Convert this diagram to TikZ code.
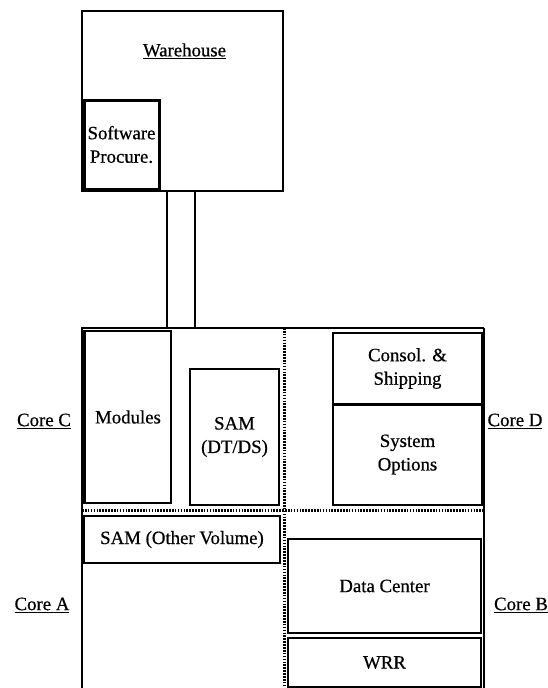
\documentclass[tikz,border=0pt]{standalone}
\usepackage{fontspec}
\setmainfont{Liberation Serif}[FakeBold=0.6]
\begin{document}
\begin{tikzpicture}[x=1pt,y=-1pt,
  every node/.style={font=\fontsize{18.8}{23.5}\selectfont, align=center, inner sep=0pt},
  box/.style={draw, line width=1.8pt, rectangle},
  heavybox/.style={draw, line width=3pt, rectangle},
  sep/.style={line width=3pt, dash pattern=on 1.6pt off 1.3pt},
  wall/.style={line width=2pt},
  lbl/.style={}]
\useasboundingbox (0,0) rectangle (548,688);
% warehouse
\node[box, minimum width=201pt, minimum height=180pt] (wh) at (182.5,101) {};
\node[lbl] (whl) at (184.5,51) {\underline{Warehouse}};
\node[heavybox, minimum width=75pt, minimum height=89pt] (sw) at (121.5,144.5) {Software\\Procure.};
% building outline
\coordinate (btl) at (82,328);
\coordinate (btr) at (484,328);
\coordinate (bbl) at (82,692);
\coordinate (bbr) at (484,692);
\draw[wall] (bbl) -- (btl) -- (btr);
\draw[line width=1.5pt] (btr) -- (bbr);
% connector (two parallel lines)
\coordinate (c1t) at (167,191);
\coordinate (c1b) at (167,328);
\coordinate (c2t) at (195,191);
\coordinate (c2b) at (195,328);
\draw[line width=1.8pt] (c1t) -- (c1b);
\draw[line width=1.8pt] (c2t) -- (c2b);
% separators
\coordinate (vs1) at (284,328);
\coordinate (vs2) at (284,692);
\coordinate (hs1) at (82,510);
\coordinate (hs2) at (484,510);
\draw[sep] (vs1) -- (vs2);
\draw[sep] (hs1) -- (hs2);
% core C
\node[box, minimum width=86pt, minimum height=172pt] (mod) at (128,417) {Modules};
\draw[line width=3pt] (mod.north west) -- (mod.south west);
\node[box, minimum width=89pt, minimum height=136pt] (samdt) at (234.5,437) {SAM\\(DT/DS)};
% core D
\node[box, minimum width=149pt, minimum height=71pt] (cons) at (407.5,368.5) {Consol. \&\\Shipping};
\node[box, minimum width=149pt, minimum height=101pt] (sysopt) at (407.5,454.5) {System\\Options};
\draw[line width=3pt] (cons.south west) -- (cons.south east);
% core A
\node[box, minimum width=196pt, minimum height=47pt] (samov) at (182,539.5) {SAM (Other Volume)};
\draw[line width=3pt] (samov.north west) -- (samov.south west);
% core B
\node[box, minimum width=193pt, minimum height=94pt] (dc) at (384.5,586) {Data Center};
\node[box, minimum width=193pt, minimum height=49pt] (wrr) at (384.5,662.5) {WRR};
% core labels
\node[lbl] (corec) at (44,421) {\underline{Core C}};
\node[lbl] (cored) at (515,421) {\underline{Core D}};
\node[lbl] (corea) at (42,605) {\underline{Core A}};
\node[lbl] (coreb) at (521,605) {\underline{Core B}};
\end{tikzpicture}
\end{document}
